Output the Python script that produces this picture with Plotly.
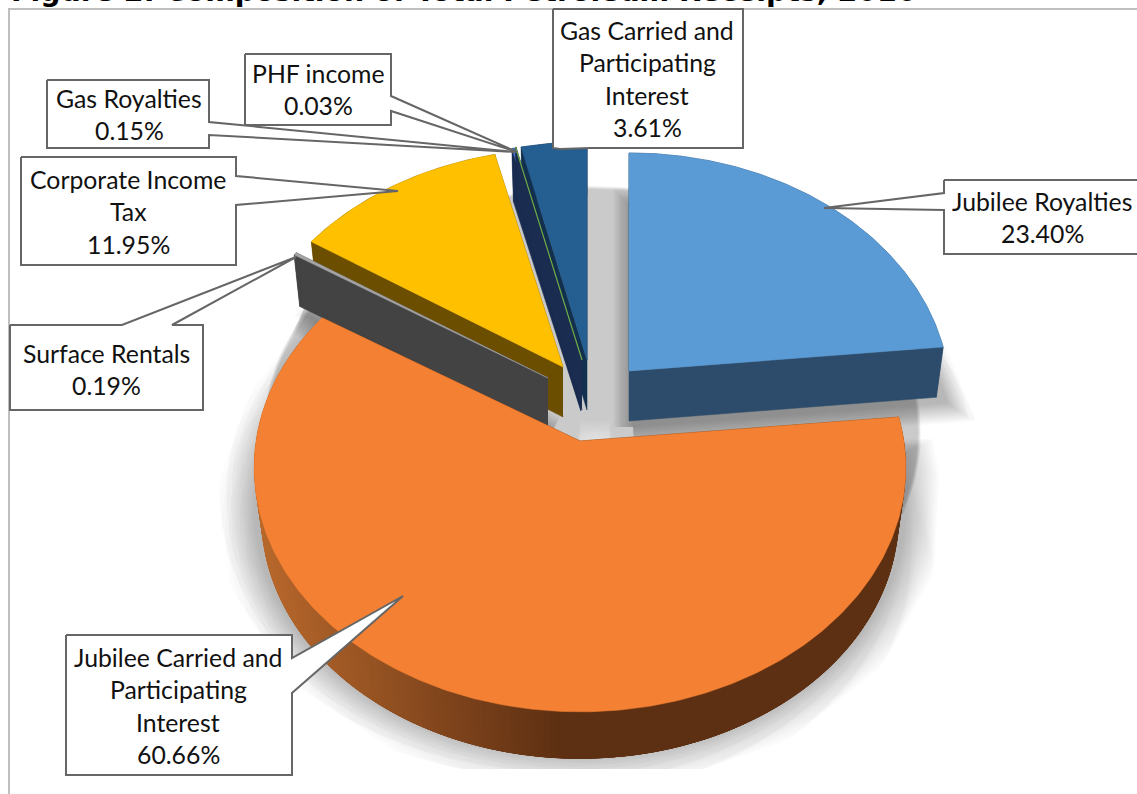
import numpy as np
import plotly.graph_objects as go

# ---- data ----
labels = ["Jubilee Royalties", "Jubilee Carried and Participating Interest", "Surface Rentals",
          "Corporate Income Tax", "Gas Royalties", "PHF income", "Gas Carried and Participating Interest"]
values = [23.40, 60.66, 0.19, 11.95, 0.15, 0.03, 3.61]
top_colors = ["#5B9BD5", "#F38033", "#A5A5A5", "#FFC000", "#4472C4", "#70AD47", "#255E91"]
wall_colors = ["#2D4C6B", "#5E3013", "#434343", "#6B4E00", "#1A2C50", "#1A2C50", "#12304D"]
title_text = "Figure 2: Composition of Total Petroleum Receipts, 2016"

# ---- layout / projection settings ----
W, H = 1137, 794
apex = [(629, 371), (580, 441), (548, 378), (563, 367), (581, 361), (582, 360), (587, 360)]
xscale = [0.985, 1.0, 0.985, 0.985, 1.0, 1.0, 1.0]
RX, RY, K, DEPTH = 324.0, 241.6, 0.108, 50.0
FONT = "Lato"
FS = 24.8
LINE = 32.5
BORDER = "#666666"

callouts = [
    # polygon outline, text centre x, first line centre y, lines
    ([(944, 180), (1150, 180), (1150, 254), (944, 254), (944, 210), (824, 208), (944, 193)],
     1042, 201, ["Jubilee Royalties", "23.40%"]),
    ([(66, 635), (292, 635), (292, 658), (403, 596), (292, 693), (292, 775), (66, 775)],
     178, 657, ["Jubilee Carried and", "Participating", "Interest", "60.66%"]),
    ([(10, 325), (122, 325), (296, 257), (172, 325), (203, 325), (203, 410), (10, 410)],
     106, 353, ["Surface Rentals", "0.19%"]),
    ([(21, 157), (236, 157), (236, 176), (398, 191), (236, 205), (236, 265), (21, 265)],
     128, 179, ["Corporate Income", "Tax", "11.95%"]),
    ([(47, 80), (209, 80), (209, 122), (516, 152), (209, 135), (209, 148), (47, 148)],
     129, 98, ["Gas Royalties", "0.15%"]),
    ([(245, 54), (391, 54), (391, 96), (517, 152), (391, 111), (391, 125), (245, 125)],
     318, 73, ["PHF income", "0.03%"]),
    ([(553, 9), (743, 9), (743, 148), (590, 148), (560, 149), (553, 148)],
     647, 30, ["Gas Carried and", "Participating", "Interest", "3.61%"]),
]

edges = np.cumsum([0] + values) / sum(values) * 2 * np.pi


def project(r, th, i, depth=0.0, a=None):
    a = apex[i] if a is None else a
    u, v = r * np.sin(th), r * np.cos(th)
    w = 1 + K * v
    x = a[0] + xscale[i] * (1 - 0.022 * depth) * RX * u / w
    y = a[1] - RY * v / w + depth * DEPTH * (1 + 0.06 * v)
    return x, y


def arc(th0, th1):
    n = max(2, int(np.degrees(th1 - th0) * 1.5))
    return np.linspace(th0, th1, n)


def top_poly(i, depth=0.0):
    ths = arc(edges[i], edges[i + 1])
    x, y = project(1.0, ths, i, depth)
    ax, ay = project(0.0, 0.0, i, depth)
    return np.r_[ax, x, ax], np.r_[ay, y, ay]


def poly(x, y, fill, line=None, width=0, opacity=None, name=None):
    return go.Scatter(x=list(x), y=list(y), mode="lines", fill="toself", fillcolor=fill,
                      line=dict(color=line or fill, width=width), opacity=opacity,
                      hoverinfo="skip", showlegend=False, name=name)


def soft(x, y, maxw, total=0.2, n=24, color="#000000"):
    out = []
    for j in range(n):
        w = maxw * (j / max(1, n - 1))
        out.append(poly(x, y, color, color, max(w, 0.01), opacity=total / n))
    return out


def hex2rgb(h):
    return np.array([int(h[i:i + 2], 16) for i in (1, 3, 5)], float)


def mix(a, b, t):
    c = hex2rgb(a) * (1 - t) + hex2rgb(b) * t
    return "rgb(%d,%d,%d)" % tuple(c)


fig = go.Figure()

# ---- soft backdrop shadows ----
ths = np.linspace(0, 2 * np.pi, 181)
bx, by = project(1.0, ths, 1, a=(592, 407))
fig.add_traces(soft(bx, by, 6, total=0.2, n=4))
# blue slice shadow
x0, y0 = top_poly(0)
fig.add_traces(soft(x0 + 4, y0 + 56, 40, total=0.2))
# orange slice shadow
x1, y1 = top_poly(1)
fig.add_traces(soft(x1, y1 + 42, 72, total=0.2))
# surface rentals shadow
x2, y2 = top_poly(2, 1.0)
fig.add_traces(soft(x2 + 2, y2 + 8, 44, total=0.2))
# light patch over the shadow next to the centre
fig.add_traces(soft([580, 596, 610], [446, 442, 446], 50, total=0.85, n=24, color="#FFFFFF"))
# white area below the clipped shadow
fig.add_trace(poly([0, W, W, 0], [769, 769, H, H], "#FFFFFF"))

# ---- slices, far to near ----
for i in [0, 6, 4, 5, 3, 2, 1]:
    th0, th1 = edges[i], edges[i + 1]
    # radial walls
    for th in (th0, th1):
        xa, ya = project(np.array([0.0, 1.0]), th, i)
        xb, yb = project(np.array([0.0, 1.0]), th, i, 1.0)
        fig.add_trace(poly(np.r_[xa, xb[::-1]], np.r_[ya, yb[::-1]], wall_colors[i], width=0.5))
    # outer wall
    if i == 1:
        seg = np.linspace(th0, th1, 240)
        for s0, s1 in zip(seg[:-6], seg[6:]):
            ss = np.array([s0, s1])
            xa, ya = project(1.0, ss, i)
            xb, yb = project(1.0, ss, i, 1.0)
            t = np.clip((xa[0] - 262) / 300, 0, 1)
            c = mix("#B8682C", wall_colors[1], t)
            fig.add_trace(poly(np.r_[xa, xb[::-1]], np.r_[ya, yb[::-1]], c))
    else:
        ss = arc(th0, th1)
        xa, ya = project(1.0, ss, i)
        xb, yb = project(1.0, ss, i, 1.0)
        fig.add_trace(poly(np.r_[xa, xb[::-1]], np.r_[ya, yb[::-1]], wall_colors[i], width=0.5))
    # top face
    xt, yt = top_poly(i)
    fig.add_trace(go.Scatter(x=list(xt), y=list(yt), mode="lines", fill="toself",
                             fillcolor=top_colors[i],
                             line=dict(color=top_colors[i], width=1.2 if i == 5 else 0.5),
                             name=labels[i], showlegend=False,
                             hovertemplate=labels[i] + ": %.2f%%<extra></extra>" % values[i]))

# ---- chart frame ----
fig.add_trace(go.Scatter(x=[9, 9, W + 5], y=[H + 5, 9, 9], mode="lines",
                         line=dict(color="#BFBFBF", width=2), hoverinfo="skip", showlegend=False))

# ---- callouts ----
annotations = []
for pts, cx, cy, lines in callouts:
    xs = [p[0] for p in pts] + [pts[0][0]]
    ys = [p[1] for p in pts] + [pts[0][1]]
    fig.add_trace(poly(xs, ys, "#FFFFFF", BORDER, 2))
    for k, s in enumerate(lines):
        annotations.append(dict(x=cx, y=cy + k * LINE, xref="x", yref="y", text=s, showarrow=False,
                                xanchor="center", yanchor="middle",
                                font=dict(family=FONT, size=FS, color="#111111")))

annotations.append(dict(x=9, y=10, xref="x", yref="y", text="<b>%s</b>" % title_text, showarrow=False,
                        xanchor="left", yanchor="bottom",
                        font=dict(family="DejaVu Sans", size=28.4, color="#000000")))

fig.update_layout(width=W, height=H, margin=dict(l=0, r=0, t=0, b=0), paper_bgcolor="white",
                  plot_bgcolor="white", showlegend=False, annotations=annotations,
                  xaxis=dict(range=[0, W], visible=False, fixedrange=True),
                  yaxis=dict(range=[H, 0], visible=False, fixedrange=True))

fig.write_html("out.html", config={"displayModeBar": False},
               post_script="document.body.style.margin='0';document.body.style.overflow='hidden';"
                           "var s=document.createElement('style');"
                           "s.textContent='svg text{font-variant-ligatures:none}';"
                           "document.head.appendChild(s);")
